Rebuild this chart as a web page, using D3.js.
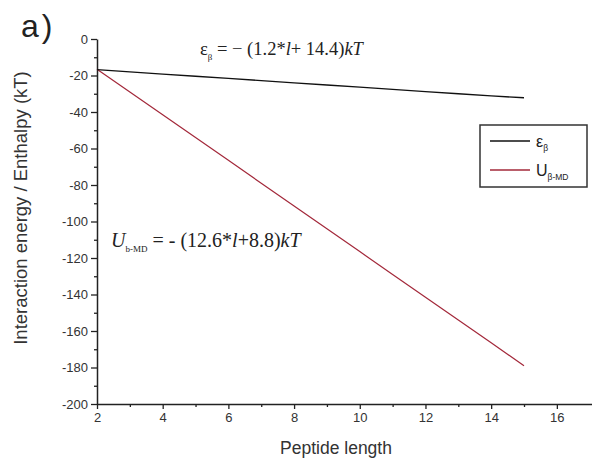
<!DOCTYPE html>
<html>
<head>
<meta charset="utf-8">
<script src="https://cdn.jsdelivr.net/npm/d3@7"></script>
<style>
  body { margin: 0; background: #fff; }
  text { font-family: "Liberation Sans", Arial, sans-serif; }
  .eq { font-family: "Liberation Serif", "Times New Roman", serif; }
</style>
</head>
<body>
<div id="chart"></div>
<script>
// values
const lengths = [2, 3, 4, 5, 6, 7, 8, 9, 10, 11, 12, 13, 14, 15]
const epsBeta = [-16.8, -18, -19.2, -20.4, -21.6, -22.8, -24, -25.2, -26.4, -27.6, -28.8, -30, -31.2, -32.2]
const uBetaMD = [-16.6, -29, -41.5, -54, -66.5, -79, -91.5, -104, -116.5, -129, -141.5, -154, -166.5, -179]
const xTicks = [2, 4, 6, 8, 10, 12, 14, 16]
const yTicks = d3.range(0, -201, -20)

const width = 592, height = 468

const x = d3.scaleLinear().domain([2, 17.07]).range([97, 592])
const y = d3.scaleLinear().domain([0, -200]).range([39, 404])

const svg = d3.select("#chart").append("svg")
    .attr("width", width)
    .attr("height", height)

// y axis
const yAxis = svg.append("g").attr("transform", `translate(${x(2)},0)`)
yAxis.call(d3.axisLeft(y).tickValues(yTicks).tickSize(6).tickSizeOuter(0).tickPadding(3).tickFormat(d => String(d)))
yAxis.append("g").call(d3.axisLeft(y).tickValues(d3.range(-10, -200, -20)).tickSize(3).tickFormat(""))
  .select(".domain").remove()

// x axis
const xAxis = svg.append("g").attr("transform", `translate(0,${y(-200)})`)
xAxis.call(d3.axisBottom(x).tickValues(xTicks).tickSize(5).tickSizeOuter(0).tickPadding(4))
xAxis.append("g").call(d3.axisBottom(x).tickValues(d3.range(3, 17, 2)).tickSize(3).tickFormat(""))
  .select(".domain").remove()

svg.selectAll(".domain").attr("stroke", "#222").attr("stroke-width", 1.5)
svg.selectAll(".tick line").attr("stroke", "#222").attr("stroke-width", 1.3)
svg.selectAll(".tick text").attr("font-size", 13).attr("fill", "#333")
  .attr("font-family", "Liberation Sans, Arial, sans-serif")

const line = d3.line().x((d, i) => x(lengths[i])).y(d => y(d))

svg.append("path")
    .datum(uBetaMD)
    .attr("fill", "none")
    .attr("stroke", "#a3283a")
    .attr("stroke-width", 1.2)
    .attr("d", line)

svg.append("path")
    .datum(epsBeta)
    .attr("fill", "none")
    .attr("stroke", "#111")
    .attr("stroke-width", 1.3)
    .attr("d", line)

// axis titles
svg.append("text")
    .attr("transform", `translate(27,208) rotate(-90)`)
    .attr("text-anchor", "middle")
    .attr("font-size", 18.5)
    .attr("fill", "#333")
    .text("Interaction energy / Enthalpy (kT)")

svg.append("text")
    .attr("x", 336)
    .attr("y", 454)
    .attr("text-anchor", "middle")
    .attr("font-size", 17.5)
    .attr("fill", "#333")
    .text("Peptide length")

const panel = svg.append("text")
    .attr("x", 21)
    .attr("y", 37)
    .attr("font-size", 32)
    .attr("fill", "#222")
panel.append("tspan").text("a")
panel.append("tspan").attr("dx", 3).text(")")

// equations
const eq1 = svg.append("text").attr("class", "eq")
    .attr("x", 200).attr("y", 55).attr("font-size", 18.5).attr("fill", "#222")
eq1.append("tspan").text("ε")
eq1.append("tspan").attr("font-size", 9).attr("dy", 5).text("β")
eq1.append("tspan").attr("dy", -5).text(" = − (1.2*")
eq1.append("tspan").attr("font-style", "italic").text("l")
eq1.append("tspan").text("+ 14.4)")
eq1.append("tspan").attr("font-style", "italic").text("kT")

const eq2 = svg.append("text").attr("class", "eq")
    .attr("x", 111).attr("y", 247).attr("font-size", 20).attr("fill", "#222")
eq2.append("tspan").attr("font-style", "italic").text("U")
eq2.append("tspan").attr("font-size", 9).attr("dy", 5).text("b-MD")
eq2.append("tspan").attr("dy", -5).text(" = - (12.6*")
eq2.append("tspan").attr("font-style", "italic").text("l")
eq2.append("tspan").text("+8.8)")
eq2.append("tspan").attr("font-style", "italic").text("kT")

// legend
const legend = svg.append("g")
legend.append("rect")
    .attr("x", 480).attr("y", 125).attr("width", 107).attr("height", 62)
    .attr("fill", "#fff").attr("stroke", "#333").attr("stroke-width", 1.5)

const legendItems = [
  { name: "ε", sub: "β", color: "#111", yy: 141 },
  { name: "U", sub: "β-MD", color: "#a3283a", yy: 170 }
]
legendItems.forEach(d => {
  legend.append("line")
      .attr("x1", 490).attr("x2", 530).attr("y1", d.yy).attr("y2", d.yy)
      .attr("stroke", d.color).attr("stroke-width", 1.3)
  const t = legend.append("text")
      .attr("x", 536).attr("y", d.yy + 6).attr("font-size", 16).attr("fill", "#222")
  t.append("tspan").text(d.name)
  t.append("tspan").attr("font-size", 8.5).attr("dy", 4).text(d.sub)
})
</script>
</body>
</html>
